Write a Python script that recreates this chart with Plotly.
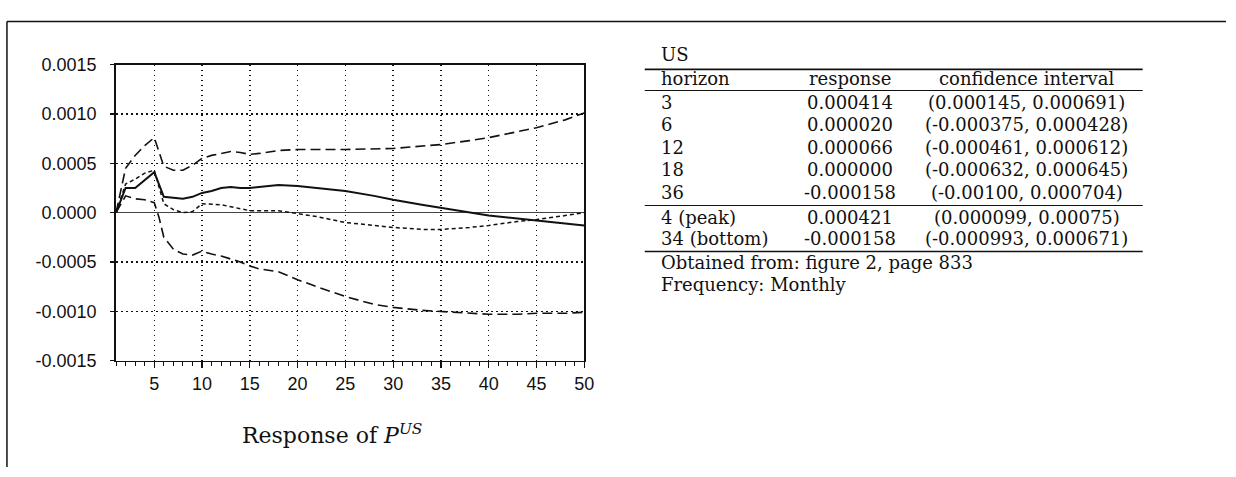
import plotly.graph_objects as go

W, H = 1236, 477

# ---------------- data ----------------
resp_x = [1, 2, 3, 4, 5, 6, 7, 8, 9, 10, 11, 12, 13, 14, 15, 16, 17, 18, 20, 22, 25, 28, 30, 33, 35, 38, 40, 43, 45, 48, 50]
resp_y = [0.0, 0.00025, 0.00025, 0.00033, 0.00041, 0.00016, 0.00015, 0.00014, 0.00016, 0.00020, 0.00022, 0.00025,
          0.00026, 0.00025, 0.00025, 0.00026, 0.00027, 0.00028, 0.00027, 0.00025, 0.00022, 0.00017, 0.00013,
          0.00008, 0.00005, 0.00000, -0.00003, -0.00006, -0.00008, -0.00011, -0.00013]

up_x = [1, 2, 3, 4, 5, 6, 7, 8, 9, 10, 11, 12, 13, 14, 15, 16, 18, 20, 25, 30, 33, 35, 38, 40, 43, 45, 48, 50]
up_y = [0.0, 0.00045, 0.00058, 0.00068, 0.00076, 0.00047, 0.00043, 0.00043, 0.00048, 0.00055, 0.00058, 0.00060,
        0.00062, 0.00061, 0.00059, 0.00060, 0.00063, 0.00064, 0.00064, 0.00065, 0.00067, 0.00069, 0.00073,
        0.00076, 0.00082, 0.00086, 0.00094, 0.00101]

lo_x = [1, 2, 3, 4, 5, 5.5, 6, 7, 8, 9, 10, 11, 12, 13, 14, 15, 16, 18, 20, 22, 25, 28, 30, 33, 35, 38, 40, 43, 45, 48, 50]
lo_y = [0.0, 0.00017, 0.00014, 0.00013, 0.00010, -0.00005, -0.00025, -0.00037, -0.00042, -0.00043, -0.00039,
        -0.00042, -0.00044, -0.00047, -0.00050, -0.00054, -0.00057, -0.00060, -0.00068, -0.00075, -0.00085,
        -0.00093, -0.00096, -0.00099, -0.00100, -0.00102, -0.00103, -0.00103, -0.00102, -0.00102, -0.00101]

sd_x = [1, 2, 3, 4, 5, 6, 7, 8, 9, 10, 12, 14, 15, 18, 20, 22, 25, 28, 30, 33, 35, 38, 40, 43, 45, 48, 50]
sd_y = [0.0, 0.00029, 0.00034, 0.00040, 0.00043, 0.00009, 0.00003, 0.00000, 0.00001, 0.00009, 0.00008, 0.00004,
        0.00002, 0.00002, -0.00001, -0.00004, -0.00010, -0.00013, -0.00015, -0.00017, -0.00017, -0.00015,
        -0.00013, -0.00009, -0.00007, -0.00003, 0.0]

x_ticks = [5, 10, 15, 20, 25, 30, 35, 40, 45, 50]
y_ticks = [-0.0015, -0.0010, -0.0005, 0.0, 0.0005, 0.0010, 0.0015]
y_ticktext = ["-0.0015", "-0.0010", "-0.0005", "0.0000", "0.0005", "0.0010", "0.0015"]

table_title = "US"
table_header = ["horizon", "response", "confidence interval"]
horizons = ["3", "6", "12", "18", "36", "4 (peak)", "34 (bottom)"]
responses = ["0.000414", "0.000020", "0.000066", "0.000000", "-0.000158", "0.000421", "-0.000158"]
conf_int = ["(0.000145, 0.000691)", "(-0.000375, 0.000428)", "(-0.000461, 0.000612)",
            "(-0.000632, 0.000645)", "(-0.00100, 0.000704)", "(0.000099, 0.00075)", "(-0.000993, 0.000671)"]
notes = ["Obtained from: figure 2, page 833", "Frequency: Monthly"]
chart_title = "Response of <i>P</i><sup><i>US</i></sup>"

# ---------------- layout helpers ----------------
def px(x):
    return x / W

def py(y):
    return 1 - y / H

PLOT_L, PLOT_R, PLOT_T, PLOT_B = 117, 589, 57, 366

fig = go.Figure()
ink = "#111111"
fig.add_trace(go.Scatter(x=up_x, y=up_y, mode="lines", line=dict(color=ink, width=1.6, dash="10px,5px")))
fig.add_trace(go.Scatter(x=lo_x, y=lo_y, mode="lines", line=dict(color=ink, width=1.6, dash="10px,5px")))
fig.add_trace(go.Scatter(x=sd_x, y=sd_y, mode="lines", line=dict(color=ink, width=1.5, dash="4px,3px")))
fig.add_trace(go.Scatter(x=resp_x, y=resp_y, mode="lines", line=dict(color=ink, width=2.0)))

tickfont = dict(family="Liberation Sans, Arial, sans-serif", size=18, color="#111")
grid_dash = "1.5px,3.5px"
fig.update_xaxes(
    domain=[px(PLOT_L), px(PLOT_R)], range=[1, 50], tickmode="array", tickvals=x_ticks,
    ticktext=[str(v) for v in x_ticks], showgrid=True, griddash=grid_dash, gridcolor="#111", gridwidth=1.4,
    ticks="outside", ticklen=6, tickwidth=1.2, tickcolor=ink, showline=True, linewidth=1.8, linecolor=ink,
    mirror=True, zeroline=False, tickfont=tickfont,
    minor=dict(tickvals=list(range(1, 51)), ticks="outside", ticklen=4, tickwidth=1, tickcolor=ink, showgrid=False),
)
fig.update_yaxes(
    domain=[py(PLOT_B), py(PLOT_T)], range=[-0.0015, 0.0015], tickmode="array", tickvals=y_ticks,
    ticktext=y_ticktext, showgrid=True, griddash=grid_dash, gridcolor="#111", gridwidth=1.4,
    zeroline=True, zerolinecolor="#444", zerolinewidth=1,
    ticks="outside", ticklen=4, tickwidth=1.2, tickcolor=ink, showline=True, linewidth=1.8, linecolor=ink,
    mirror=True, tickfont=tickfont, ticklabelstandoff=10,
)

shapes = []
# outer frame (top and left)
shapes.append(dict(type="line", xref="paper", yref="paper", x0=px(7), x1=px(W), y0=py(12), y1=py(12),
                   line=dict(color=ink, width=1.5)))
shapes.append(dict(type="line", xref="paper", yref="paper", x0=px(7), x1=px(7), y0=py(12), y1=py(H),
                   line=dict(color=ink, width=1.5)))

# table geometry
T_L, T_R = 650, 1152
TXT_L = 664
COL_RESP = 857
COL_CI = 1035
rules = [(62, 1.8), (84, 1.1), (204, 1.1), (252, 1.5)]
for yy, lw in rules:
    shapes.append(dict(type="line", xref="paper", yref="paper", x0=px(T_L), x1=px(T_R), y0=py(yy), y1=py(yy),
                       line=dict(color=ink, width=lw)))

serif = dict(family="DejaVu Serif, serif", size=18, color="#111")
ann = []

def text(x, y, s, anchor="left", font=serif):
    ann.append(dict(x=px(x), y=py(y), xref="paper", yref="paper", text=s, showarrow=False,
                    xanchor=anchor, yanchor="middle", font=font))

text(TXT_L, 46, table_title)
text(TXT_L, 72, table_header[0])
text(COL_RESP, 72, table_header[1], "center")
text(COL_CI, 72, table_header[2], "center")
row_y = [97, 120, 143, 167, 191, 217, 239]
for i in range(len(horizons)):
    text(TXT_L, row_y[i], horizons[i])
    text(COL_RESP, row_y[i], responses[i], "center")
    text(COL_CI, row_y[i], conf_int[i], "center")
text(TXT_L, 264, notes[0])
text(TXT_L, 287, notes[1])

text(335, 443, chart_title, "center", dict(family="DejaVu Serif, serif", size=22, color="#111"))

fig.update_layout(
    width=W, height=H, autosize=False, margin=dict(l=0, r=0, t=0, b=0),
    paper_bgcolor="white", plot_bgcolor="white", showlegend=False,
    shapes=shapes, annotations=ann, hovermode=False,
)

fig.write_html("out.html", config={"displayModeBar": False, "staticPlot": True},
               post_script="document.body.style.margin='0';document.body.style.overflow='hidden';")
